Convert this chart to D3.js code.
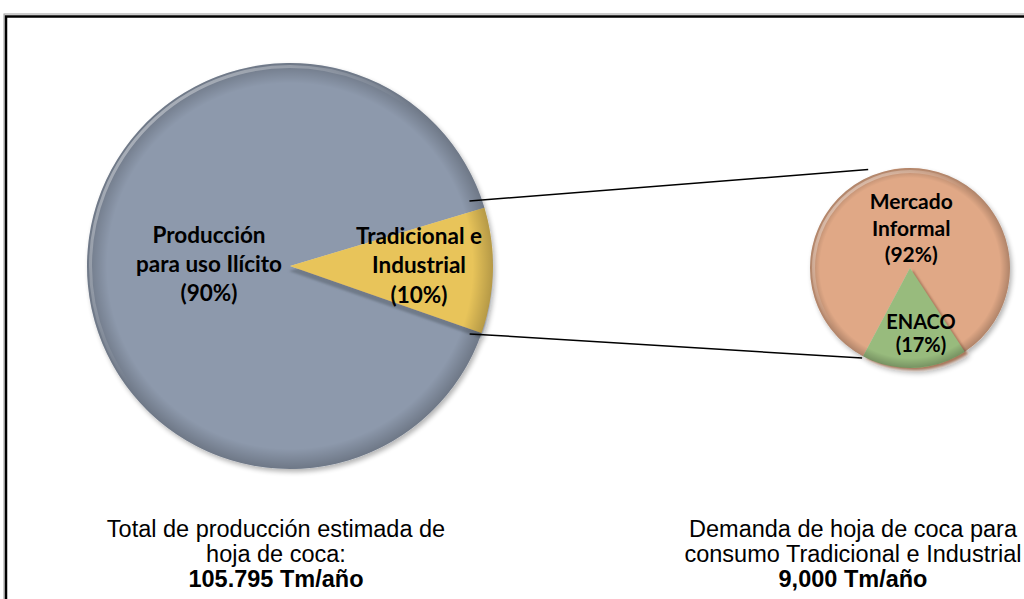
<!DOCTYPE html>
<html>
<head>
<meta charset="utf-8">
<script src="https://cdn.jsdelivr.net/npm/d3@7"></script>
<style>
  html, body { margin: 0; padding: 0; background: #ffffff; overflow: hidden; }
  svg { display: block; }
</style>
</head>
<body>
<div id="chart"></div>
<script>
// main pie: share of total production
var mainCategories = ["Tradicional e Industrial", "Producción para uso Ilícito"];
var mainValues = [10, 90];
var mainLabels = [["Tradicional e", "Industrial", "(10%)"], ["Producción", "para uso Ilícito", "(90%)"]];

// secondary pie: breakdown of the 10% (ENACO slice takes 17% of the circle)
var subCategories = ["Mercado Informal", "ENACO"];
var subValues = [83, 17];
var subLabels = [["Mercado", "Informal", "(92%)"], ["ENACO", "(17%)"]];

var captionLeft = ["Total de producción estimada de", "hoja de coca:", "105.795 Tm/año"];
var captionRight = ["Demanda de hoja de coca para", "consumo Tradicional e Industrial", "9,000 Tm/año"];

var width = 1024, height = 599;
var deg = Math.PI / 180;

var svg = d3.select("#chart")
    .append("svg")
    .attr("width", width)
    .attr("height", height);

var defs = svg.append("defs");

// rim darkening + highlight used for the bevel look
var rim = defs.append("radialGradient").attr("id", "rim");
rim.append("stop").attr("offset", "0%").attr("stop-color", "#000").attr("stop-opacity", 0);
rim.append("stop").attr("offset", "90%").attr("stop-color", "#000").attr("stop-opacity", 0);
rim.append("stop").attr("offset", "100%").attr("stop-color", "#000").attr("stop-opacity", 0.22);

var hl = defs.append("linearGradient").attr("id", "hl")
    .attr("x1", "0%").attr("y1", "0%").attr("x2", "100%").attr("y2", "100%");
hl.append("stop").attr("offset", "0%").attr("stop-color", "#fff").attr("stop-opacity", 0.55);
hl.append("stop").attr("offset", "45%").attr("stop-color", "#fff").attr("stop-opacity", 0.0);

function shadowFilter(id, dx, dy, color) {
    var f = defs.append("filter").attr("id", id)
        .attr("x", "-20%").attr("y", "-20%").attr("width", "140%").attr("height", "140%");
    f.append("feGaussianBlur").attr("in", "SourceAlpha").attr("stdDeviation", 1);
    f.append("feOffset").attr("dx", dx).attr("dy", dy).attr("result", "off");
    f.append("feFlood").attr("flood-color", color);
    f.append("feComposite").attr("in2", "off").attr("operator", "in").attr("result", "sh");
    var m = f.append("feMerge");
    m.append("feMergeNode").attr("in", "sh");
    m.append("feMergeNode").attr("in", "SourceGraphic");
}
shadowFilter("shYellow", -1, 5, "#6f7a89");
shadowFilter("shGreen", 3, 2, "#a9785c");

var soft = defs.append("filter").attr("id", "soft")
    .attr("x", "-10%").attr("y", "-10%").attr("width", "125%").attr("height", "125%");
soft.append("feGaussianBlur").attr("in", "SourceAlpha").attr("stdDeviation", 2.5);
soft.append("feOffset").attr("dx", 2).attr("dy", 3).attr("result", "o");
soft.append("feComponentTransfer").append("feFuncA").attr("type", "linear").attr("slope", 0.3);
var sm = soft.append("feMerge");
sm.append("feMergeNode");
sm.append("feMergeNode").attr("in", "SourceGraphic");

// frame
svg.append("rect")
    .attr("x", 4).attr("y", 14).attr("width", 1040).attr("height", 600)
    .attr("fill", "none").attr("stroke", "#9a9a9a").attr("stroke-width", 1);
svg.append("rect")
    .attr("x", 6).attr("y", 16.5).attr("width", 1040).attr("height", 600)
    .attr("fill", "none").attr("stroke", "#000").attr("stroke-width", 2.5);

function drawPie(cfg) {
    var pie = d3.pie().sort(null)
        .startAngle(cfg.start * deg)
        .endAngle(cfg.start * deg + 2 * Math.PI);
    var arcs = pie(cfg.values);
    var arc = d3.arc().innerRadius(0).outerRadius(cfg.r);

    var g = svg.append("g")
        .attr("transform", "translate(" + cfg.cx + "," + cfg.cy + ")");

    var body = g.append("g").attr("filter", "url(#soft)");
    body.selectAll("path.slice")
        .data(arcs)
        .enter().append("path")
        .attr("class", "slice")
        .attr("d", arc)
        .attr("fill", function(d, i) { return cfg.colors[i]; })
        .attr("filter", function(d, i) { return i === cfg.raised ? "url(#" + cfg.shadow + ")" : null; })
        .sort(function(a, b) { return (a.index === cfg.raised) - (b.index === cfg.raised); });

    g.append("circle").attr("r", cfg.r).attr("fill", "url(#rim)");
    g.append("circle").attr("r", cfg.r - 3.5)
        .attr("fill", "none").attr("stroke", "url(#hl)").attr("stroke-width", 3);

    var labelPos = function(d, i) {
        var a = (d.startAngle + d.endAngle) / 2;
        return [Math.sin(a) * cfg.labelR[i] + cfg.nudge[i][0],
                -Math.cos(a) * cfg.labelR[i] + cfg.nudge[i][1]];
    };

    g.selectAll("text.lbl")
        .data(arcs)
        .enter().append("text")
        .attr("class", "lbl")
        .attr("text-anchor", "middle")
        .attr("font-family", "Lato, 'Open Sans', sans-serif")
        .attr("font-weight", "bold")
        .attr("font-size", function(d, i) { return cfg.fontSize[i]; })
        .attr("fill", "#000")
        .each(function(d, i) {
            var p = labelPos(d, i);
            var lines = cfg.labels[i];
            var lh = cfg.lineH[i];
            var y0 = p[1] - (lines.length - 1) * lh / 2 + cfg.fontSize[i] * 0.36;
            d3.select(this).selectAll("tspan")
                .data(lines)
                .enter().append("tspan")
                .attr("x", p[0])
                .attr("y", function(t, j) { return y0 + j * lh; })
                .text(function(t) { return t; });
        });

    return { arcs: arcs, cx: cfg.cx, cy: cfg.cy, r: cfg.r };
}

var main = drawPie({
    cx: 290, cy: 266, r: 203, start: 73.3,
    values: mainValues, labels: mainLabels,
    colors: ["#e8c45a", "#8d99ac"],
    raised: 0, shadow: "shYellow",
    labelR: [129, 81], nudge: [[0, -4], [0, 0]],
    fontSize: [22.5, 22.5], lineH: [29.5, 29]
});

var sub = drawPie({
    cx: 910, cy: 268, r: 100, start: 208,
    values: subValues, labels: subLabels,
    colors: ["#e0a886", "#98bb7d"],
    raised: 1, shadow: "shGreen",
    labelR: [40, 65], nudge: [[3, 0], [8, 0]],
    fontSize: [21, 20], lineH: [26.5, 23]
});

// connector lines between the pies
function pt(p, angle, k) {
    return [p.cx + Math.sin(angle) * p.r * k, p.cy - Math.cos(angle) * p.r * k];
}
var ySlice = main.arcs[0];
var connectors = [
    [pt(main, ySlice.startAngle - 3.2 * deg, 0.94), pt(sub, -23 * deg, 1.07)],
    [pt(main, ySlice.endAngle + 1.4 * deg, 0.946), pt(sub, sub.arcs[1].endAngle, 1.02)]
];
svg.selectAll("line.conn")
    .data(connectors)
    .enter().append("line")
    .attr("class", "conn")
    .attr("x1", function(d) { return d[0][0]; })
    .attr("y1", function(d) { return d[0][1]; })
    .attr("x2", function(d) { return d[1][0]; })
    .attr("y2", function(d) { return d[1][1]; })
    .attr("stroke", "#000")
    .attr("stroke-width", 1.5);

// captions under each pie
function caption(lines, cx) {
    var t = svg.append("text")
        .attr("text-anchor", "middle")
        .attr("font-family", "'Liberation Sans', Arial, sans-serif")
        .attr("font-size", 23.5)
        .attr("fill", "#000");
    t.selectAll("tspan")
        .data(lines)
        .enter().append("tspan")
        .attr("x", cx)
        .attr("y", function(d, i) { return 537 + i * 25; })
        .attr("font-weight", function(d, i) { return i === 2 ? "bold" : "normal"; })
        .text(function(d) { return d; });
}
caption(captionLeft, 276);
caption(captionRight, 853);
</script>
</body>
</html>
